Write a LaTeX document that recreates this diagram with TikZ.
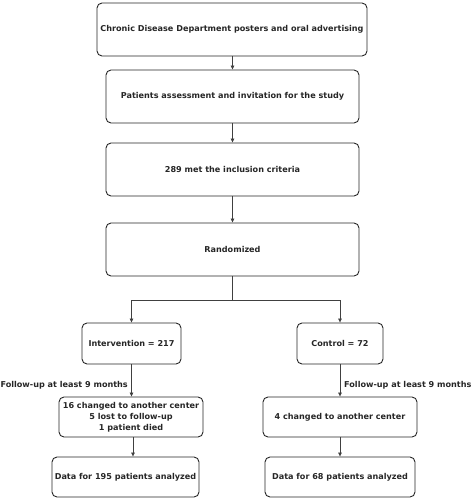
\documentclass[tikz,border=0pt]{standalone}
\usepackage{fontspec}
\setmainfont{DejaVu Sans}
\usetikzlibrary{arrows.meta}
\begin{document}
\begin{tikzpicture}[x=1pt,y=-1pt,
  box/.style={draw=black!85,line width=0.9pt,rounded corners=5pt,inner sep=0pt,align=center,font=\fontsize{8.1}{10.8}\selectfont\bfseries,text=black!85},
  arr/.style={draw=black!75,line width=0.7pt,-{Triangle[length=4pt,width=3.6pt]}},
  lbl/.style={font=\fontsize{8.1}{10.8}\selectfont\bfseries,text=black!85,inner sep=0pt}]
\useasboundingbox (0,0) rectangle (472,500);
\node[box,minimum width=270pt,minimum height=53pt] (b1) at (232,29.5) {Chronic Disease Department posters and oral advertising};
\node[box,minimum width=253pt,minimum height=53pt] (b2) at (232.5,96.5) {Patients assessment and invitation for the study};
\node[box,minimum width=253pt,minimum height=53pt] (b3) at (232.5,169.5) {289 met the inclusion criteria};
\node[box,minimum width=253pt,minimum height=53pt] (b4) at (232.5,249.5) {Randomized};
\node[box,minimum width=99pt,minimum height=41pt] (int) at (131.5,343.5) {Intervention = 217};
\node[box,minimum width=86pt,minimum height=41pt] (ctl) at (340,343.5) {Control = 72};
\node[box,minimum width=144pt,minimum height=40pt] (l2) at (131,417) {16 changed to another center\\5 lost to follow-up\\1 patient died};
\node[box,minimum width=154pt,minimum height=40pt] (r2) at (340,417) {4 changed to another center};
\node[box,minimum width=147pt,minimum height=40pt] (l3) at (125.5,477) {Data for 195 patients analyzed};
\node[box,minimum width=150pt,minimum height=40pt] (r3) at (340,477) {Data for 68 patients analyzed};
\coordinate (split) at (232.5,300);
\coordinate (lx) at (133,0);
\coordinate (rx) at (340,0);
\draw[arr] (b1.south -| split) -- (b2.north -| split);
\draw[arr] (b2.south -| split) -- (b3.north -| split);
\draw[arr] (b3.south -| split) -- (b4.north -| split);
\draw[draw=black!75,line width=0.7pt] (b4.south -| split) -- (split);
\draw[arr] (split) -| (int.north);
\draw[arr] (split) -| (ctl.north);
\draw[arr] (int.south) -- (l2.north -| int.south);
\draw[arr] (ctl.south) -- (r2.north);
\draw[arr] (l2.south -| lx) -- (l3.north -| lx);
\draw[arr] (r2.south -| rx) -- (r3.north -| rx);
\node[lbl,anchor=east] (fl) at (128,385) {Follow-up at least 9 months};
\node[lbl,anchor=west] (fr) at (344,385) {Follow-up at least 9 months};
\end{tikzpicture}
\end{document}
